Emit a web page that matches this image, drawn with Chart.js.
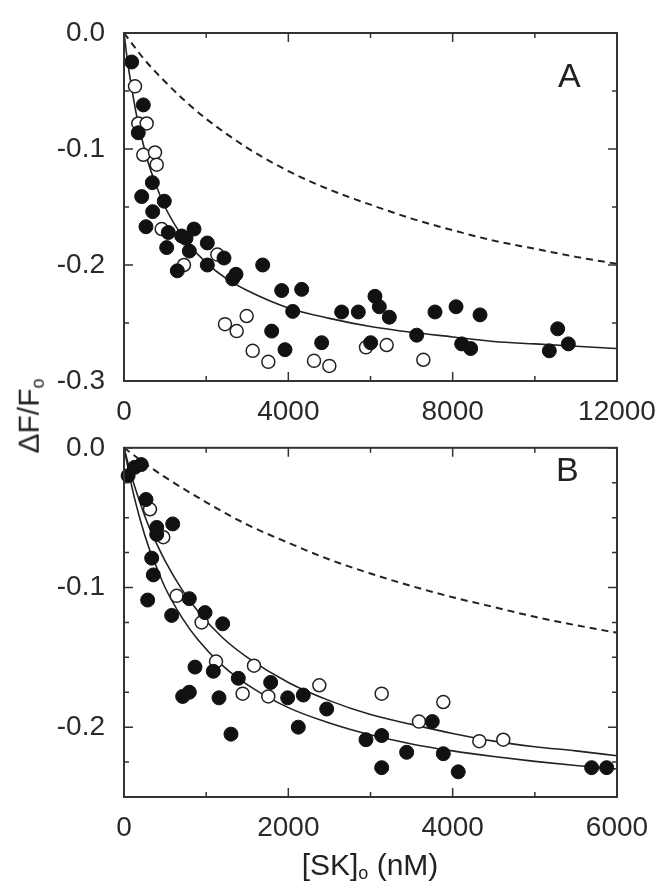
<!DOCTYPE html>
<html>
<head>
<meta charset="utf-8">
<script src="https://cdn.jsdelivr.net/npm/chart.js@4.4.1/dist/chart.umd.min.js"></script>
<style>
body{margin:0;background:#fff;font-family:"Liberation Sans",Arial,sans-serif;color:#222}
#wrap{position:relative;width:672px;height:891px;overflow:hidden}
canvas{position:absolute;left:0}
#cA{top:0}
#cB{top:420px}
.lbl{position:absolute;font-size:34px;line-height:1}
#ylab{position:absolute;left:30px;top:416px;transform:translate(-50%,-50%) rotate(-90deg);font-size:30px;white-space:nowrap}
#xlab{position:absolute;left:370px;top:866px;transform:translate(-50%,-50%);font-size:30px;white-space:nowrap}
sub{font-size:60%;vertical-align:-0.25em}
</style>
</head>
<body>
<div id="wrap">
<canvas id="cA" width="672" height="430"></canvas>
<canvas id="cB" width="672" height="471"></canvas>
<div class="lbl" style="left:558px;top:58px">A</div>
<div class="lbl" style="left:556px;top:452px">B</div>
<div id="ylab">ΔF/F<sub>o</sub></div>
<div id="xlab">[SK]<sub>o</sub> (nM)</div>
</div>
<script>
// panel A ticks
const xTicksA = [0,4000,8000,12000]
const xMinorA = [2000,6000,10000]
const yTicksA = [0,-0.1,-0.2,-0.3]
const yMinorA = [-0.05,-0.15,-0.25]
// panel B ticks
const xTicksB = [0,2000,4000,6000]
const xMinorB = [1000,3000,5000]
const yTicksB = [0,-0.1,-0.2]
const yMinorB = [-0.025,-0.05,-0.075,-0.125,-0.15,-0.175,-0.225]

// panel A data
const aFilledX = [187,470,348,690,431,980,698,535,1079,1404,1509,1704,1039,1590,2028,2434,2028,1298,2645,2726,3376,3838,4325,4106,3595,3919,4811,5298,5703,6109,6215,6458,6004,7124,7570,8082,8219,8438,8666,10353,10556,10815]
const aFilledY = [-0.025,-0.062,-0.086,-0.129,-0.141,-0.145,-0.154,-0.167,-0.172,-0.175,-0.177,-0.169,-0.185,-0.188,-0.181,-0.194,-0.2,-0.205,-0.212,-0.208,-0.2,-0.222,-0.221,-0.24,-0.257,-0.273,-0.267,-0.2405,-0.2405,-0.227,-0.236,-0.245,-0.267,-0.2605,-0.2405,-0.236,-0.268,-0.272,-0.243,-0.274,-0.255,-0.268]
const aOpenX = [268,348,552,470,755,796,917,2272,1460,2458,2743,2986,3132,3513,4625,4998,5890,6394,7286]
const aOpenY = [-0.046,-0.078,-0.078,-0.105,-0.103,-0.1135,-0.169,-0.191,-0.2,-0.251,-0.257,-0.244,-0.274,-0.2835,-0.2826,-0.287,-0.271,-0.269,-0.2817]
const aFitX = [0,100,200,300,400,600,800,1000,1250,1500,2000,2500,3000,4000,5000,6000,7000,8000,9000,10000,11000,12000]
const aFitY = [0,-0.028,-0.050,-0.070,-0.086,-0.113,-0.133,-0.150,-0.166,-0.179,-0.198,-0.212,-0.222,-0.237,-0.246,-0.253,-0.258,-0.262,-0.266,-0.268,-0.270,-0.272]
const aDashX = [0,500,1000,1500,2000,3000,4000,5000,6000,7000,8000,9000,10000,11000,12000]
const aDashY = [0,-0.023,-0.042,-0.059,-0.074,-0.099,-0.119,-0.135,-0.148,-0.160,-0.170,-0.179,-0.186,-0.193,-0.199]

// panel B data
const bFilledX = [50,130,210,268,593,398,398,337,357,288,795,580,986,1201,864,1087,1391,1785,714,795,1156,1992,2182,2467,2121,1302,2945,3136,3136,3752,3440,3886,4068,5691,5874]
const bFilledY = [-0.02,-0.014,-0.012,-0.037,-0.0545,-0.057,-0.062,-0.079,-0.091,-0.109,-0.108,-0.12,-0.118,-0.126,-0.157,-0.16,-0.165,-0.168,-0.178,-0.175,-0.179,-0.179,-0.177,-0.187,-0.2,-0.205,-0.209,-0.206,-0.229,-0.196,-0.218,-0.219,-0.232,-0.229,-0.229]
const bOpenX = [316,478,641,945,1120,1582,1444,1756,2377,3136,3886,3590,4324,4616]
const bOpenY = [-0.044,-0.064,-0.106,-0.125,-0.153,-0.156,-0.176,-0.178,-0.17,-0.176,-0.182,-0.196,-0.21,-0.209]
const bFitX = [0,100,200,300,400,500,700,900,1200,1500,2000,2500,3000,3500,4000,4500,5000,5500,6000]
const bUpperY = [0,-0.022,-0.040,-0.056,-0.069,-0.081,-0.101,-0.117,-0.136,-0.150,-0.168,-0.181,-0.191,-0.198,-0.2045,-0.210,-0.214,-0.217,-0.2205]
const bLowerY = [0,-0.029,-0.052,-0.071,-0.086,-0.100,-0.121,-0.1375,-0.156,-0.1695,-0.186,-0.197,-0.2055,-0.212,-0.217,-0.221,-0.2245,-0.2275,-0.230]
const bDashX = [0,250,500,1000,1500,2000,2500,3000,3500,4000,4500,5000,5500,6000]
const bDashY = [0,-0.011,-0.021,-0.039,-0.055,-0.068,-0.080,-0.090,-0.099,-0.107,-0.114,-0.121,-0.127,-0.1324]

const pts = (xs,ys)=>xs.map((x,i)=>({x:x,y:ys[i]}))

const tickFont = {family:'"Liberation Sans", Arial, sans-serif', size:28}

const frameTicks = {
  id:'frameTicks',
  afterDatasetsDraw(chart,args,o){
    const {ctx,chartArea:a,scales:{x,y}} = chart
    ctx.save()
    ctx.strokeStyle = '#333'
    ctx.lineWidth = 1.5
    const xt = (v,len)=>{
      const p = x.getPixelForValue(v)
      ctx.beginPath()
      ctx.moveTo(p,a.bottom); ctx.lineTo(p,a.bottom-len)
      ctx.moveTo(p,a.top); ctx.lineTo(p,a.top+len)
      ctx.stroke()
    }
    const yt = (v,len)=>{
      const p = y.getPixelForValue(v)
      ctx.beginPath()
      ctx.moveTo(a.left,p); ctx.lineTo(a.left+len,p)
      ctx.moveTo(a.right,p); ctx.lineTo(a.right-len,p)
      ctx.stroke()
    }
    o.xMajor.forEach(v=>xt(v,9))
    o.xMinor.forEach(v=>xt(v,5))
    o.yMajor.forEach(v=>yt(v,9))
    o.yMinor.forEach(v=>yt(v,5))
    ctx.lineWidth = 2
    ctx.strokeRect(a.left,a.top,a.width,a.height)
    ctx.restore()
  }
}

function makeChart(id,cfg){
  const filled = {data:pts(cfg.fx,cfg.fy),pointRadius:7,pointBackgroundColor:'#111',pointBorderColor:'#111',pointBorderWidth:1,showLine:false,clip:false}
  const open = {data:pts(cfg.ox,cfg.oy),pointRadius:6.5,pointBackgroundColor:'#fff',pointBorderColor:'#222',pointBorderWidth:1.5,showLine:false,clip:false}
  const lines = cfg.lines.map(l=>({
    data:pts(l.x,l.y),
    showLine:true,
    pointRadius:0,
    borderColor:'#222',
    borderWidth:l.dash ? 2 : 1.6,
    borderDash:l.dash ? [7,5] : [],
    cubicInterpolationMode:'monotone'
  }))
  return new Chart(document.getElementById(id),{
    type:'scatter',
    data:{datasets:[filled,open,...lines]},
    options:{
      responsive:false,
      animation:false,
      layout:{padding:{top:cfg.top,right:55,left:0,bottom:0}},
      plugins:{
        legend:{display:false},
        tooltip:{enabled:false},
        frameTicks:{xMajor:cfg.xt,xMinor:cfg.xm,yMajor:cfg.yt,yMinor:cfg.ym}
      },
      scales:{
        x:{
          type:'linear',min:0,max:cfg.xmax,
          grid:{display:false},border:{display:false},
          afterBuildTicks:s=>{s.ticks = cfg.xt.map(v=>({value:v}))},
          afterFit:s=>{s.height = cfg.xh},
          ticks:{font:tickFont,color:'#2a2a2a',padding:6,maxRotation:0,autoSkip:false,callback:v=>String(v)}
        },
        y:{
          type:'linear',min:cfg.ymin,max:0,
          grid:{display:false},border:{display:false},
          afterBuildTicks:s=>{s.ticks = cfg.yt.map(v=>({value:v}))},
          afterFit:s=>{s.width = 124},
          ticks:{font:tickFont,color:'#2a2a2a',padding:11,autoSkip:false,callback:v=>Number(v).toFixed(1)}
        }
      }
    },
    plugins:[frameTicks]
  })
}

makeChart('cA',{
  fx:aFilledX,fy:aFilledY,ox:aOpenX,oy:aOpenY,
  lines:[{x:aFitX,y:aFitY},{x:aDashX,y:aDashY,dash:true}],
  xmax:12000,ymin:-0.3,top:33,xh:49,
  xt:xTicksA,xm:xMinorA,yt:yTicksA,ym:yMinorA
})

makeChart('cB',{
  fx:bFilledX,fy:bFilledY,ox:bOpenX,oy:bOpenY,
  lines:[{x:bFitX,y:bUpperY},{x:bFitX,y:bLowerY},{x:bDashX,y:bDashY,dash:true}],
  xmax:6000,ymin:-0.25,top:27,xh:94,
  xt:xTicksB,xm:xMinorB,yt:yTicksB,ym:yMinorB
})
</script>
</body>
</html>
